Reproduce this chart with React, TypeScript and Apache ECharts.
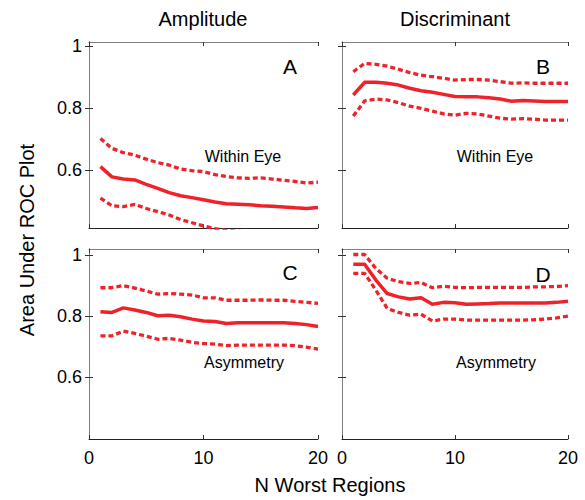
import React, { useEffect, useRef } from "react";
import * as echarts from "echarts";

const xs = [1, 2, 3, 4, 5, 6, 7, 8, 9, 10, 11, 12, 13, 14, 15, 16, 17, 18, 19, 20];

const ampWithinMean = [0.611, 0.578, 0.571, 0.568, 0.554, 0.541, 0.527, 0.517, 0.511, 0.504, 0.497, 0.491, 0.49, 0.488, 0.485, 0.483, 0.481, 0.478, 0.476, 0.479];
const ampWithinUpper = [0.702, 0.67, 0.656, 0.648, 0.635, 0.624, 0.616, 0.603, 0.598, 0.595, 0.585, 0.579, 0.575, 0.573, 0.575, 0.571, 0.567, 0.563, 0.558, 0.561];
const ampWithinLower = [0.509, 0.485, 0.482, 0.489, 0.476, 0.466, 0.455, 0.44, 0.43, 0.42, 0.411, 0.405, 0.402, 0.4, 0.399, 0.397, 0.396, 0.394, 0.392, 0.394];

const discWithinMean = [0.842, 0.883, 0.883, 0.88, 0.874, 0.864, 0.856, 0.851, 0.844, 0.837, 0.836, 0.836, 0.833, 0.829, 0.822, 0.824, 0.823, 0.821, 0.821, 0.821];
const discWithinUpper = [0.917, 0.944, 0.941, 0.935, 0.925, 0.914, 0.906, 0.901, 0.896, 0.89, 0.892, 0.892, 0.89, 0.885, 0.88, 0.881, 0.88, 0.88, 0.88, 0.88];
const discWithinLower = [0.774, 0.823, 0.829, 0.826, 0.817, 0.806, 0.799, 0.79, 0.781, 0.777, 0.783, 0.781, 0.774, 0.767, 0.764, 0.766, 0.764, 0.761, 0.761, 0.761];

const ampAsymMean = [0.814, 0.812, 0.827, 0.82, 0.812, 0.801, 0.803, 0.798, 0.79, 0.784, 0.782, 0.776, 0.778, 0.778, 0.778, 0.778, 0.778, 0.776, 0.772, 0.766];
const ampAsymUpper = [0.893, 0.893, 0.9, 0.892, 0.882, 0.872, 0.874, 0.872, 0.869, 0.86, 0.86, 0.852, 0.852, 0.852, 0.853, 0.852, 0.852, 0.848, 0.845, 0.842];
const ampAsymLower = [0.735, 0.735, 0.751, 0.743, 0.734, 0.724, 0.727, 0.721, 0.714, 0.71, 0.708, 0.703, 0.705, 0.705, 0.705, 0.705, 0.705, 0.703, 0.698, 0.692];

const discAsymMean = [0.97, 0.97, 0.918, 0.874, 0.863, 0.856, 0.86, 0.839, 0.845, 0.844, 0.839, 0.84, 0.841, 0.843, 0.843, 0.843, 0.843, 0.843, 0.845, 0.849];
const discAsymUpper = [1.002, 1.002, 0.956, 0.924, 0.913, 0.907, 0.91, 0.893, 0.898, 0.894, 0.893, 0.894, 0.894, 0.894, 0.894, 0.894, 0.896, 0.896, 0.897, 0.9];
const discAsymLower = [0.94, 0.94, 0.885, 0.825, 0.812, 0.803, 0.806, 0.784, 0.79, 0.79, 0.787, 0.787, 0.787, 0.787, 0.787, 0.787, 0.788, 0.79, 0.794, 0.8];

const yTicks = [0.6, 0.8, 1];
const xTicks = [0, 10, 20];
const columnTitles = ["Amplitude", "Discriminant"];
const panelLetters = ["A", "B", "C", "D"];
const panelNotes = ["Within Eye", "Within Eye", "Asymmetry", "Asymmetry"];

const RED = "#ee2229";
const FONT = "Liberation Sans, Arial, Helvetica, sans-serif";

export default function App() {
  const ref = useRef<HTMLDivElement>(null);
  useEffect(() => {
    document.body.style.margin = "0";
    const chart = echarts.init(ref.current!, undefined, { renderer: "svg" });

    const grids = [
      { left: 89, top: 42, width: 229, height: 186, ymin: 0.413, ymax: 1.013 },
      { left: 342, top: 42, width: 226, height: 186, ymin: 0.413, ymax: 1.013 },
      { left: 89, top: 249, width: 229, height: 190, ymin: 0.397, ymax: 1.02 },
      { left: 342, top: 249, width: 226, height: 190, ymin: 0.397, ymax: 1.02 },
    ];
    const panels = [
      [ampWithinMean, ampWithinUpper, ampWithinLower],
      [discWithinMean, discWithinUpper, discWithinLower],
      [ampAsymMean, ampAsymUpper, ampAsymLower],
      [discAsymMean, discAsymUpper, discAsymLower],
    ];

    const xAxis: any[] = [];
    const yAxis: any[] = [];
    const series: any[] = [];
    grids.forEach((g, i) => {
      const isBottom = i >= 2;
      const isLeft = i % 2 === 0;
      const base = {
        type: "value",
        gridIndex: i,
        min: 0,
        max: 20,
        splitLine: { show: false },
        axisTick: { show: true, inside: true, length: 4, customValues: xTicks, lineStyle: { color: "#333" } },
      };
      xAxis.push({
        ...base,
        position: "bottom",
        axisLine: { show: true, lineStyle: { color: "#222", width: 1 } },
        axisLabel: { show: isBottom, customValues: xTicks, fontSize: 18, color: "#000", fontFamily: FONT, margin: 10 },
      });
      xAxis.push({
        ...base,
        position: "top",
        axisLine: { show: true, lineStyle: { color: "#808080", width: 1 } },
        axisLabel: { show: false },
      });
      const ybase = {
        type: "value",
        gridIndex: i,
        min: g.ymin,
        max: g.ymax,
        splitLine: { show: false },
        axisTick: { show: true, inside: true, length: 4, customValues: yTicks, lineStyle: { color: "#333" } },
      };
      yAxis.push({
        ...ybase,
        position: "left",
        axisLine: { show: true, lineStyle: { color: isLeft ? "#222" : "#808080", width: 1 } },
        axisLabel: {
          show: isLeft,
          customValues: yTicks,
          fontSize: 18,
          color: "#000",
          fontFamily: FONT,
          margin: 7,
          formatter: (v: number) => String(Math.round(v * 10) / 10),
        },
      });
      yAxis.push({
        ...ybase,
        position: "right",
        axisLine: { show: true, lineStyle: { color: "#808080", width: 1 } },
        axisLabel: { show: false },
      });
      const [mean, upper, lower] = panels[i];
      const mk = (vals: number[], dashed: boolean) => ({
        type: "line",
        xAxisIndex: 2 * i,
        yAxisIndex: 2 * i,
        data: xs.map((x, k) => [x, vals[k]]),
        showSymbol: false,
        symbol: "none",
        clip: true,
        lineStyle: { color: RED, width: dashed ? 3.3 : 3.5, type: dashed ? [5, 3] : "solid" },
        silent: true,
      });
      series.push(mk(mean, false), mk(upper, true), mk(lower, true));
    });

    const letterPos = [
      [290, 66],
      [543, 66],
      [290, 272],
      [543, 274],
    ];
    const notePos = [
      [243, 156],
      [495, 156],
      [244, 362],
      [496, 362],
    ];
    const graphic: any[] = [];
    panelLetters.forEach((l, i) => {
      graphic.push({
        type: "text",
        x: letterPos[i][0],
        y: letterPos[i][1],
        style: { text: l, font: `21px ${FONT}`, fill: "#000", align: "center", verticalAlign: "middle" },
      });
      graphic.push({
        type: "text",
        x: notePos[i][0],
        y: notePos[i][1],
        style: { text: panelNotes[i], font: `16px ${FONT}`, fill: "#000", align: "center", verticalAlign: "middle" },
      });
    });
    columnTitles.forEach((t, i) => {
      graphic.push({
        type: "text",
        x: i === 0 ? 203 : 455,
        y: 19,
        style: { text: t, font: `20px ${FONT}`, fill: "#000", align: "center", verticalAlign: "middle" },
      });
    });
    graphic.push({
      type: "text",
      x: 330,
      y: 485,
      style: { text: "N Worst Regions", font: `20px ${FONT}`, fill: "#000", align: "center", verticalAlign: "middle" },
    });
    graphic.push({
      type: "text",
      x: 27,
      y: 240,
      rotation: Math.PI / 2,
      style: { text: "Area Under ROC Plot", font: `20px ${FONT}`, fill: "#000", align: "center", verticalAlign: "middle" },
    });

    chart.setOption({
      animation: false,
      backgroundColor: "#fff",
      grid: grids.map((g) => ({ left: g.left, top: g.top, width: g.width, height: g.height, containLabel: false })),
      xAxis,
      yAxis,
      series,
      graphic,
    });
    return () => chart.dispose();
  }, []);
  return <div ref={ref} style={{ width: 585, height: 500 }} />;
}
